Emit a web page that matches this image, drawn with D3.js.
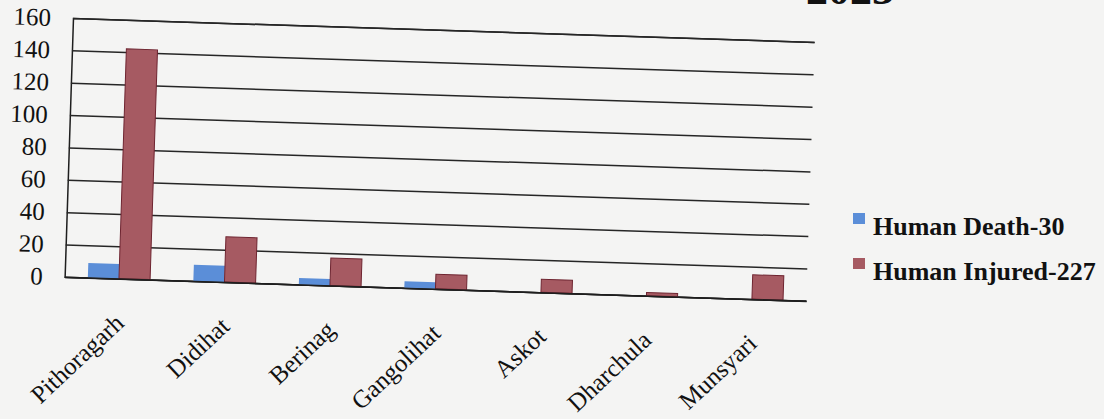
<!DOCTYPE html>
<html>
	<head>
		<meta charset="utf-8">
		<style type="text/css">
			body { margin: 0; background: #f4f4f3; }
			svg { display: block; }
			text { font-family: "Liberation Serif", "Times New Roman", serif; fill: #111; }
		</style>
		<title>Human wildlife conflict 2023</title>
	</head>
	<body>
		<script src="https://cdn.jsdelivr.net/npm/d3@7/dist/d3.min.js"></script>
		<script>

// data
var blocks = ["Pithoragarh", "Didihat", "Berinag", "Gangolihat", "Askot", "Dharchula", "Munsyari"];
var deaths = [9, 10, 4, 4, 0, 0, 0];
var injured = [142, 28, 17, 9, 8, 2, 15];
var yTicks = [0, 20, 40, 60, 80, 100, 120, 140, 160];
var seriesNames = ["Human Death-30", "Human Injured-227"];
var colors = ["#5b8ed8", "#a65a62"];

var W = 1104, H = 419;
var width = 742, height = 259;

var svg = d3.select("body").append("svg")
	.attr("width", W)
	.attr("height", H);

// partly cut off title at the top of the scan
svg.append("text")
	.attr("x", 806)
	.attr("y", 4)
	.style("font-size", "44px")
	.style("font-weight", "bold")
	.text("2023");

// the page was scanned a little crooked
var g = svg.append("g")
	.attr("transform", "translate(73,18) rotate(1.85)");

var x = d3.scaleBand()
	.domain(blocks)
	.range([0, width])
	.paddingInner(0.41)
	.paddingOuter(0.22);

var x1 = d3.scaleBand()
	.domain([0, 1])
	.range([0, x.bandwidth()]);

var y = d3.scaleLinear()
	.domain([0, 160])
	.range([height, 0]);

var yAxis = d3.axisLeft(y)
	.tickValues(yTicks)
	.tickSize(-width)
	.tickPadding(22)
	.tickFormat(d3.format("d"));

var ya = g.append("g").call(yAxis);
ya.select(".domain").attr("stroke", "#1e1e1e").attr("stroke-width", 1.5);
ya.selectAll(".tick line").attr("stroke", "#262626").attr("stroke-width", 1.5);
ya.selectAll(".tick text")
	.style("font-size", "25px")
	.attr("fill", "#111");

var rows = blocks.map(function(b, i) { return {name: b, vals: [deaths[i], injured[i]]}; });

var grp = g.selectAll(".grp")
	.data(rows)
	.enter().append("g")
	.attr("transform", function(d) { return "translate(" + x(d.name) + ",0)"; });

grp.selectAll("rect")
	.data(function(d) { return d.vals.map(function(v, k) { return {k: k, v: v}; }); })
	.enter().append("rect")
	.attr("x", function(d) { return x1(d.k); })
	.attr("y", function(d) { return y(d.v); })
	.attr("width", x1.bandwidth())
	.attr("height", function(d) { return height - y(d.v); })
	.attr("fill", function(d) { return colors[d.k]; })
	.attr("stroke", function(d) { return d.k == 1 ? "#6e2430" : "none"; })
	.attr("stroke-width", 1);

var xAxis = d3.axisBottom(x)
	.tickSize(0)
	.tickSizeOuter(0);

var xa = g.append("g")
	.attr("transform", "translate(0," + height + ")")
	.call(xAxis);
xa.select(".domain").attr("stroke", "#1e1e1e").attr("stroke-width", 1.6);
xa.selectAll(".tick text")
	.style("font-size", "25px")
	.attr("fill", "#111")
	.attr("text-anchor", "end")
	.attr("dy", 0)
	.attr("transform", "translate(8,46) rotate(-45)")
	.attr("x", 0)
	.attr("y", 0);

// legend
var leg = svg.append("g");
var legY = [213, 258];
seriesNames.forEach(function(n, i) {
	leg.append("rect")
		.attr("x", 853)
		.attr("y", legY[i])
		.attr("width", 12)
		.attr("height", 11)
		.attr("fill", colors[i]);
	leg.append("text")
		.attr("x", 873)
		.attr("y", legY[i] + 22)
		.style("font-size", "26px")
		.style("font-weight", "bold")
		.text(n);
});

		</script>
	</body>
</html>
